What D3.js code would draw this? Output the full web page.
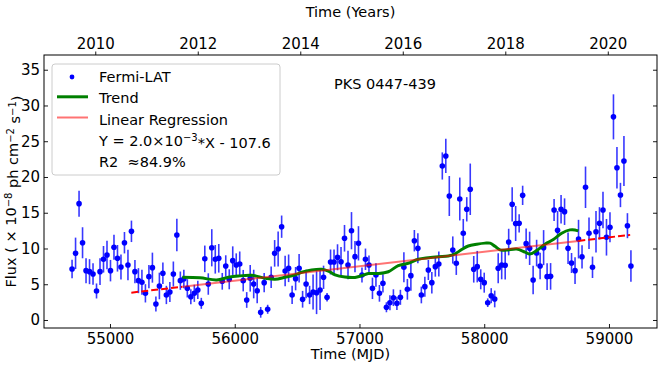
<!DOCTYPE html>
<html>
<head>
<meta charset="utf-8">
<script src="https://cdn.jsdelivr.net/npm/d3@7"></script>
<style>
  body { margin: 0; background: #fff; }
  svg text { font-family: "DejaVu Sans", sans-serif; fill: #000; }
</style>
</head>
<body>
<div id="chart"></div>
<script>
// 28-day Fermi-LAT bins (MJD), flux in 1e-8 ph cm-2 s-1
const mjd = [54696, 54724, 54752, 54780, 54808, 54836, 54864, 54892, 54920, 54948,
  54976, 55004, 55032, 55060, 55088, 55116, 55144, 55172, 55200, 55228,
  55256, 55284, 55312, 55340, 55368, 55396, 55424, 55452, 55480, 55508,
  55536, 55564, 55592, 55620, 55648, 55676, 55704, 55732, 55760, 55788,
  55816, 55844, 55872, 55900, 55928, 55956, 55984, 56012, 56040, 56068,
  56096, 56124, 56152, 56180, 56208, 56236, 56264, 56292, 56320, 56348,
  56376, 56404, 56432, 56460, 56488, 56516, 56544, 56572, 56600, 56628,
  56656, 56684, 56712, 56740, 56768, 56796, 56824, 56852, 56880, 56908,
  56936, 56964, 56992, 57020, 57048, 57076, 57104, 57132, 57160, 57188,
  57216, 57244, 57272, 57300, 57328, 57356, 57384, 57412, 57440, 57468,
  57496, 57524, 57552, 57580, 57608, 57636, 57664, 57692, 57720, 57748,
  57776, 57804, 57832, 57860, 57888, 57916, 57944, 57972, 58000, 58028,
  58056, 58084, 58112, 58140, 58168, 58196, 58224, 58252, 58280, 58308,
  58336, 58364, 58392, 58420, 58448, 58476, 58504, 58532, 58560, 58588,
  58616, 58644, 58672, 58700, 58728, 58756, 58784, 58812, 58840, 58868,
  58896, 58924, 58952, 58980, 59008, 59036, 59064, 59092, 59120, 59148,
  59176];

const flux = [7.13, 9.32, 16.27, 10.8, 6.9, 6.76, 6.43, 4.06, 6.76, 8.49,
  9.09, 6.9, 10.17, 8.63, 7.41, 10.81, 7.69, 12.4, 6.76, 5.5,
  5.27, 3.73, 6.06, 7.32, 2.24, 4.76, 6.53, 3.5, 3.92, 6.43,
  11.89, 5.5, 5.73, 4.43, 3.26, 3.73, 4.2, 2.33, 8.55, 5.03,
  10.1, 8.49, 8.63, 5.41, 7.55, 5.69, 8.3, 7.69, 7.83, 5.5,
  2.8, 5.83, 5.03, 4.1, 1.07, 5.22, 1.5, 5.97, 9.32, 9.93,
  13.05, 6.85, 7.23, 3.5, 5.78, 7.23, 2.9, 5.03, 3.5, 3.92,
  3.82, 4.2, 5.97, 3.17, 8.11, 8.11, 8.77, 8.15, 11.43, 7.69,
  12.49, 8.86, 10.72, 6.29, 8.49, 7.69, 4.43, 6.29, 3.73, 5.13,
  1.78, 2.42, 3.12, 2.33, 3.17, 7.37, 4.29, 6.2, 11.09, 10.02,
  3.5, 4.66, 6.99, 5.22, 7.46, 7.83, 21.54, 22.94, 17.34, 9.79,
  7.93, 16.92, 12.13, 15.48, 18.28, 7.09, 7.46, 5.69, 5.22, 2.42,
  3.4, 2.94, 7.23, 7.69, 7.65, 10.9, 16.18, 13.5, 13.52, 17.43,
  10.68, 10.02, 5.59, 9.36, 7.55, 10.12, 6.06, 6.1, 15.38, 12.54,
  15.48, 15.15, 10.02, 7.97, 6.9, 11.31, 8.84, 18.56, 12.13, 7.37,
  12.35, 13.52, 15.38, 11.57, 12.97, 28.41, 21.3, 17.48, 22.24, 13.19,
  7.55];

const fluxErr = [1.28, 2.2, 1.82, 2.17, 1.75, 1.75, 1.5, 1.05, 1.86, 1.86,
  2.0, 1.5, 1.75, 1.86, 1.75, 1.5, 2.14, 1.5, 1.63, 1.75,
  1.75, 1.28, 1.63, 2.1, 1.05, 1.86, 1.5, 1.28, 1.4, 1.75,
  2.26, 1.28, 1.3, 1.28, 1.05, 1.2, 1.28, 0.77, 1.86, 1.5,
  2.6, 2.0, 2.0, 1.17, 1.5, 1.4, 2.0, 1.63, 1.75, 1.5,
  1.1, 1.86, 2.0, 1.75, 0.75, 1.35, 0.63, 1.5, 1.86, 2.45,
  1.56, 2.14, 1.93, 1.28, 1.63, 2.0, 1.17, 2.0, 1.28, 2.45,
  3.0, 2.8, 1.63, 0.6, 1.75, 1.75, 1.82, 2.05, 1.86, 2.0,
  2.6, 2.2, 2.4, 1.05, 1.5, 1.33, 1.5, 1.63, 1.17, 1.28,
  0.7, 1.05, 1.17, 0.93, 1.05, 2.1, 1.45, 2.1, 1.5, 2.1,
  1.17, 1.4, 1.4, 1.5, 1.4, 1.75, 1.9, 2.4, 2.8, 1.9,
  1.63, 3.0, 2.0, 1.7, 3.6, 1.86, 2.2, 1.4, 1.4, 0.6,
  1.05, 1.17, 2.1, 2.0, 2.0, 1.86, 2.4, 2.45, 1.28, 1.35,
  2.1, 2.33, 2.0, 1.86, 1.86, 2.45, 1.86, 1.86, 1.54, 2.7,
  2.0, 1.86, 2.2, 1.4, 1.86, 2.7, 1.63, 2.9, 2.2, 1.5,
  2.9, 2.26, 2.56, 2.56, 2.1, 3.15, 2.9, 1.7, 3.5, 1.75,
  2.2];

// smoothed trend curve
const trendMjd = [55580, 55721, 55855, 55948, 56028, 56136, 56189, 56256, 56323, 56403,
  56483, 56537, 56617, 56697, 56750, 56804, 56884, 56964, 57018, 57071,
  57151, 57231, 57311, 57391, 57471, 57552, 57632, 57712, 57766, 57819,
  57872, 57940, 58006, 58046, 58086, 58126, 58180, 58260, 58327, 58367,
  58420, 58487, 58554, 58621, 58687, 58727, 58754];
const trendFlux = [5.97, 5.9, 5.6, 5.97, 6.15, 6.25, 6.06, 5.8, 5.7, 5.97,
  6.29, 6.67, 7.0, 7.1, 6.85, 6.3, 6.0, 5.95, 6.2, 6.5,
  6.5, 6.75, 7.6, 7.93, 8.5, 8.72, 8.86, 8.95, 9.25, 9.85,
  10.35, 10.6, 10.75, 10.75, 10.3, 9.8, 9.78, 9.93, 9.5, 9.23,
  9.7, 10.6, 11.25, 12.13, 12.6, 12.6, 12.45];

// linear regression Y = slope*X + intercept
const regSlope = 0.00202;
const regIntercept = -107.62;
const regRange = [55171, 59170];

const mjdTicks = [55000, 56000, 57000, 58000, 59000];
const yearTicks = [2010, 2012, 2014, 2016, 2018, 2020];
const fluxTicks = [0, 5, 10, 15, 20, 25, 30, 35];

const width = 663, height = 367;
const margin = { top: 55, right: 6, bottom: 39, left: 44 };
const innerW = width - margin.left - margin.right;
const innerH = height - margin.top - margin.bottom;

const svg = d3.select('#chart').append('svg')
    .attr('width', width)
    .attr('height', height);

const plot = svg.append('g')
    .attr('transform', `translate(${margin.left},${margin.top})`);

const xScale = d3.scaleLinear().domain([54471, 59385]).range([0, innerW]);
const yearScale = d3.scaleLinear().domain([2009.0, 2020.96]).range([0, innerW]);
const yScale = d3.scaleLinear().domain([-1.12, 37.06]).range([innerH, 0]);

const points = mjd.map((m, i) => ({ x: m, y: flux[i], e: fluxErr[i] }));

// error bars
plot.append('g')
    .selectAll('line')
    .data(points)
    .enter()
    .append('line')
    .attr('x1', d => xScale(d.x))
    .attr('x2', d => xScale(d.x))
    .attr('y1', d => yScale(d.y - d.e))
    .attr('y2', d => yScale(d.y + d.e))
    .attr('stroke', '#0000ff')
    .attr('stroke-opacity', 0.78)
    .attr('stroke-width', 1.6);

plot.append('g')
    .selectAll('circle')
    .data(points)
    .enter()
    .append('circle')
    .attr('cx', d => xScale(d.x))
    .attr('cy', d => yScale(d.y))
    .attr('r', 2.8)
    .attr('fill', '#0000ff');

// trend
const trend = trendMjd.map((m, i) => ({ x: m, y: trendFlux[i] }));
const line = d3.line()
    .x(d => xScale(d.x))
    .y(d => yScale(d.y))
    .curve(d3.curveCatmullRom);

plot.append('path')
    .datum(trend)
    .attr('d', line)
    .attr('fill', 'none')
    .attr('stroke', '#008000')
    .attr('stroke-width', 3);

// regression: solid over the trend span, dashed outside it
const trendStart = d3.min(trendMjd), trendEnd = d3.max(trendMjd);
const reg = x => ({ x: x, y: regSlope * x + regIntercept });

plot.append('path')
    .datum([reg(trendStart), reg(trendEnd)])
    .attr('d', d3.line().x(d => xScale(d.x)).y(d => yScale(d.y)))
    .attr('fill', 'none')
    .attr('stroke', 'red')
    .attr('stroke-opacity', 0.55)
    .attr('stroke-width', 2);

[[regRange[0], trendStart], [trendEnd, regRange[1]]].forEach(seg => {
    plot.append('path')
        .datum(seg.map(reg))
        .attr('d', d3.line().x(d => xScale(d.x)).y(d => yScale(d.y)))
        .attr('fill', 'none')
        .attr('stroke', 'red')
        .attr('stroke-width', 2)
        .attr('stroke-dasharray', '7,3');
});

// axes
const fontSize = '15px';

const bottomAxis = plot.append('g')
    .attr('transform', `translate(0,${innerH})`)
    .call(d3.axisBottom(xScale).tickValues(mjdTicks).tickSize(-4).tickPadding(5).tickFormat(d3.format('d')));

const leftAxis = plot.append('g')
    .call(d3.axisLeft(yScale).tickValues(fluxTicks).tickSize(-4).tickPadding(4));

const rightAxis = plot.append('g')
    .attr('transform', `translate(${innerW},0)`)
    .call(d3.axisRight(yScale).tickValues(fluxTicks).tickSize(-4).tickFormat(''));

const topAxis = plot.append('g')
    .call(d3.axisTop(yearScale).tickValues(yearTicks).tickSize(3.5).tickPadding(3).tickFormat(d3.format('d')));

[bottomAxis, leftAxis, rightAxis, topAxis].forEach(a => {
    a.select('.domain').remove();
    a.selectAll('text').attr('font-size', fontSize).attr('font-family', '"DejaVu Sans", sans-serif');
    a.selectAll('line').attr('stroke', '#000').attr('stroke-width', 0.9);
});

plot.append('rect')
    .attr('width', innerW)
    .attr('height', innerH)
    .attr('fill', 'none')
    .attr('stroke', '#000')
    .attr('stroke-width', 1);

// axis titles
svg.append('text')
    .attr('x', margin.left + innerW / 2)
    .attr('y', 359)
    .attr('text-anchor', 'middle')
    .attr('font-size', '14.5px')
    .text('Time (MJD)');

svg.append('text')
    .attr('x', margin.left + innerW / 2)
    .attr('y', 17)
    .attr('text-anchor', 'middle')
    .attr('font-size', '14.5px')
    .text('Time (Years)');

const yLabel = svg.append('text')
    .attr('transform', `translate(16,${margin.top + innerH / 2}) rotate(-90)`)
    .attr('text-anchor', 'middle')
    .attr('font-size', '14.5px');
yLabel.append('tspan').text('Flux ( × 10');
yLabel.append('tspan').attr('dy', '-0.45em').attr('font-size', '10px').text('−8');
yLabel.append('tspan').attr('dy', '0.45em').text(' ph cm');
yLabel.append('tspan').attr('dy', '-0.45em').attr('font-size', '10px').text('−2');
yLabel.append('tspan').attr('dy', '0.45em').text(' s');
yLabel.append('tspan').attr('dy', '-0.45em').attr('font-size', '10px').text('−1');
yLabel.append('tspan').attr('dy', '0.45em').text(')');

// source name
svg.append('text')
    .attr('x', 334)
    .attr('y', 88.5)
    .attr('font-size', '14.5px')
    .text('PKS 0447-439');

// legend
const legend = svg.append('g');
legend.append('rect')
    .attr('x', 52).attr('y', 64)
    .attr('width', 228).attr('height', 111)
    .attr('rx', 3)
    .attr('fill', '#fff').attr('fill-opacity', 0.8)
    .attr('stroke', '#cccccc');

const rowY = [82, 103.3, 124.5, 145.7, 167];
const textX = 99;
legend.append('circle').attr('cx', 72).attr('cy', rowY[0] - 5).attr('r', 2.4).attr('fill', '#0000ff');
legend.append('line').attr('x1', 57).attr('x2', 88).attr('y1', rowY[1] - 6.5).attr('y2', rowY[1] - 6.5)
    .attr('stroke', '#008000').attr('stroke-width', 3);
legend.append('line').attr('x1', 57).attr('x2', 88).attr('y1', rowY[2] - 7).attr('y2', rowY[2] - 7)
    .attr('stroke', 'red').attr('stroke-opacity', 0.55).attr('stroke-width', 2);

const legendText = (y, parts) => {
    const t = legend.append('text').attr('x', textX).attr('y', y).attr('font-size', '14.5px');
    parts.forEach(p => {
        const s = t.append('tspan').text(p.text);
        if (p.sup) s.attr('dy', '-0.45em').attr('font-size', '10px');
        if (p.down) s.attr('dy', '0.45em');
    });
};
legendText(rowY[0], [{ text: 'Fermi-LAT' }]);
legendText(rowY[1], [{ text: 'Trend' }]);
legendText(rowY[2], [{ text: 'Linear Regression' }]);
legendText(rowY[3], [{ text: 'Y = 2.0×10' }, { text: '−3', sup: true }, { text: '*X - 107.6', down: true }]);
legendText(rowY[4], [{ text: 'R2 \u00a0≈84.9%' }]);
</script>
</body>
</html>
